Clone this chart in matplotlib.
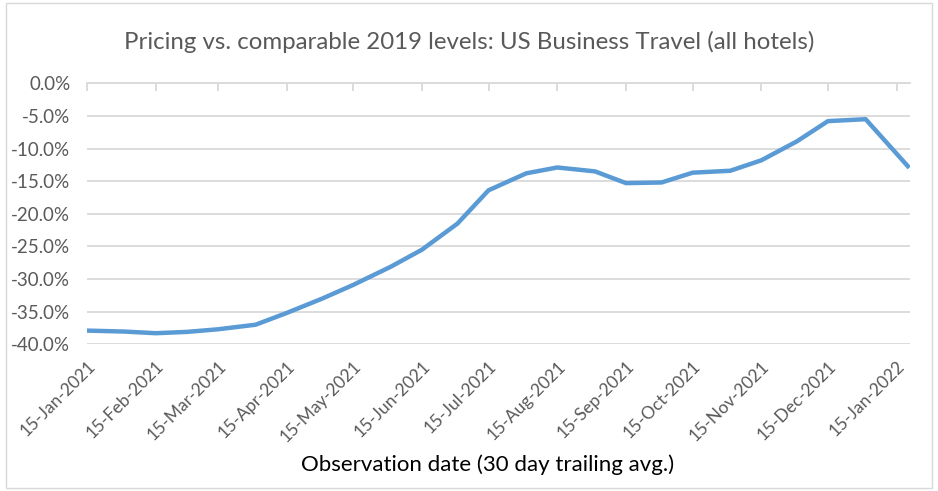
import matplotlib
matplotlib.use('Agg')
import matplotlib.pyplot as plt
import matplotlib.dates as mdates
import pandas as pd
import numpy as np

# observation dates (semi-monthly) and pricing vs 2019 (%)
obs_dates = ['2021-01-15', '2021-02-01', '2021-02-15', '2021-03-01', '2021-03-15',
             '2021-04-01', '2021-04-15', '2021-05-01', '2021-05-15', '2021-06-01',
             '2021-06-15', '2021-07-01', '2021-07-15', '2021-08-01', '2021-08-15',
             '2021-09-01', '2021-09-15', '2021-10-01', '2021-10-15', '2021-11-01',
             '2021-11-15', '2021-12-01', '2021-12-15', '2022-01-01', '2022-01-20']
pricing = [-37.9, -38.05, -38.3, -38.1, -37.7,
           -37.0, -35.2, -33.0, -30.9, -28.1,
           -25.5, -21.5, -16.4, -13.8, -12.9,
           -13.5, -15.3, -15.2, -13.7, -13.4,
           -11.8, -8.9, -5.8, -5.5, -12.7]

tick_dates = ['2021-01-15', '2021-02-15', '2021-03-15', '2021-04-15', '2021-05-15',
              '2021-06-15', '2021-07-15', '2021-08-15', '2021-09-15', '2021-10-15',
              '2021-11-15', '2021-12-15', '2022-01-15']

plt.rcParams['font.family'] = ['Lato', 'DejaVu Sans']

x = pd.to_datetime(obs_dates)
ticks = pd.to_datetime(tick_dates)

fig = plt.figure(figsize=(9.38, 4.91), dpi=100)
ax = fig.add_axes([87 / 938, 1 - 344.3 / 491, (910 - 87) / 938, (344.3 - 83.3) / 491])

# light frame round the chart
fig.patches.append(plt.Rectangle((0.006, 0.006), 0.988, 0.988, transform=fig.transFigure,
                                 fill=False, edgecolor='#d9d9d9', lw=1))

ax.plot(x, pricing, color='#5b9bd5', lw=3.2, solid_joinstyle='round', zorder=3)

ax.set_ylim(-40, 0)
ax.set_yticks(np.arange(-40, 1, 5))
ax.set_yticklabels(['{:.1f}%'.format(v) for v in np.arange(-40, 1, 5)])
ax.set_xlim(pd.Timestamp('2021-01-15'), pd.Timestamp('2022-01-21'))
ax.set_xticks(ticks)
ax.xaxis.set_major_formatter(mdates.DateFormatter('%d-%b-%Y'))

ax.grid(axis='y', color='#d9d9d9', lw=1.3)
ax.set_axisbelow(True)
for s in ['left', 'right', 'bottom']:
    ax.spines[s].set_visible(False)
ax.spines['top'].set_color('#d9d9d9')
ax.spines['top'].set_linewidth(1.3)

ax.tick_params(axis='y', length=0, pad=12, labelsize=13.5, labelcolor='#595959')
ax.tick_params(axis='x', top=True, bottom=False, labeltop=False, labelbottom=True,
               direction='in', length=6, color='#d9d9d9', width=1.3,
               labelsize=12.5, labelcolor='#595959', pad=10)
for lab in ax.get_xticklabels():
    lab.set_rotation(45)
    lab.set_ha('right')
    lab.set_rotation_mode('anchor')

fig.text(0.5, 1 - 42 / 491, 'Pricing vs. comparable 2019 levels: US Business Travel (all hotels)',
         ha='center', va='center', fontsize=17.3, color='#595959')
fig.text(0.52, 1 - 465 / 491, 'Observation date (30 day trailing avg.)',
         ha='center', va='center', fontsize=16, color='black')

plt.savefig('out.png', dpi=100)
